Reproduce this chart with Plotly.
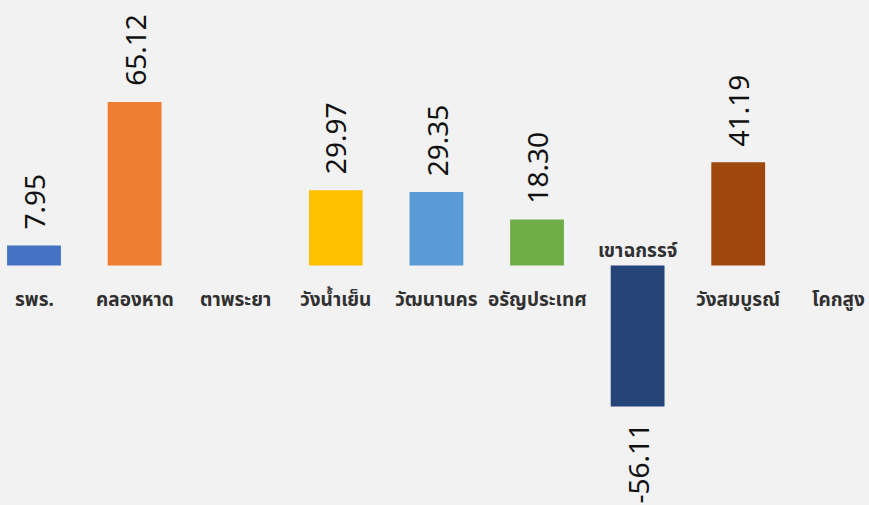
import plotly.graph_objects as go

# --- DATA ---
districts = ['รพร.', 'คลองหาด', 'ตาพระยา', 'วังน้ำเย็น', 'วัฒนานคร',
             'อรัญประเทศ', 'เขาฉกรรจ์', 'วังสมบูรณ์', 'โคกสูง']
values = [7.95, 65.12, None, 29.97, 29.35, 18.30, -56.11, 41.19, None]
colors = ['#4472C4', '#ED7D31', '#A5A5A5', '#FFC000', '#5B9BD5',
          '#70AD47', '#264478', '#9E480E', '#636363']
# -------------

x = list(range(len(districts)))

fig = go.Figure(go.Bar(
    x=x, y=values, width=0.535,
    marker=dict(color=colors, line=dict(width=0)),
    hovertext=districts, showlegend=False,
))

# value labels, rotated, just past the bar end
for i, v in enumerate(values):
    if v is None:
        continue
    fig.add_annotation(
        x=i, y=v, text=f'{v:.2f}', textangle=-90, showarrow=False,
        yanchor='bottom' if v >= 0 else 'top',
        yshift=14 if v >= 0 else -14,
        font=dict(family='Noto Sans', size=28, color='#111111'),
    )

# category labels below the axis (above it for the negative bar)
for i, name in enumerate(districts):
    v = values[i]
    neg = v is not None and v < 0
    fig.add_annotation(
        x=i, y=0, text=f'<b>{name}</b>', showarrow=False,
        yanchor='middle', yshift=16 if neg else -33,
        font=dict(family='Noto Sans, Noto Sans Thai, sans-serif', size=19, color='#303030'),
    )

fig.update_layout(
    width=869, height=505,
    margin=dict(l=0, r=0, t=0, b=0),
    paper_bgcolor='#F2F2F2', plot_bgcolor='#F2F2F2',
    xaxis=dict(range=[-0.338, 8.30], visible=False),
    yaxis=dict(range=[-95.4, 105.8], visible=False),
)

fig.write_html("out.html", config={'displayModeBar': False},
               post_script="document.body.style.margin='0';")
